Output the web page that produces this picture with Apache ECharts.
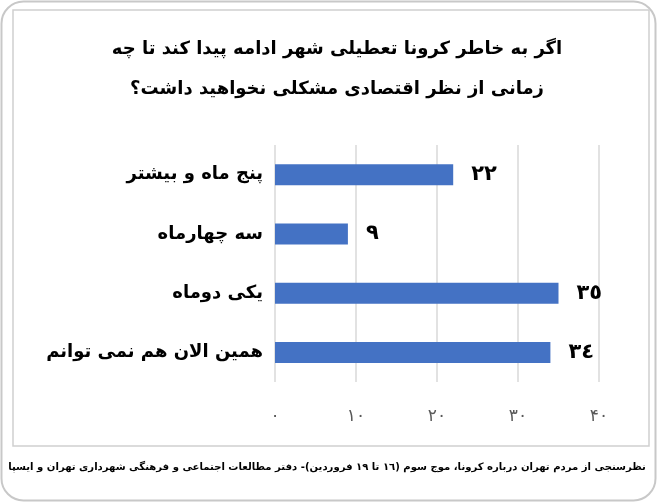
<!DOCTYPE html>
<html>
<head>
<meta charset="utf-8">
<script src="https://cdn.jsdelivr.net/npm/echarts@6/dist/echarts.min.js"></script>
<style>
html,body{margin:0;padding:0;background:#fff;}
#chart{width:657px;height:503px;}
</style>
</head>
<body>
<div id="chart"></div>
<script>
const titleLines = ['اگر به خاطر کرونا تعطیلی شهر ادامه پیدا کند تا چه', 'زمانی از نظر اقتصادی مشکلی نخواهید داشت؟'];
const categories = ['پنج ماه و بیشتر', 'سه چهارماه', 'یکی دوماه', 'همین الان هم نمی توانم'];
const values = [22, 9, 35, 34];
const xTicks = [0, 10, 20, 30, 40];
const footerText = 'نظرسنجی از مردم تهران درباره کرونا، موج سوم (١٦ تا ١٩ فروردین)- دفتر مطالعات اجتماعی و فرهنگی شهرداری تهران و ایسپا';

const FONT = '"DejaVu Sans", sans-serif';
const arabicDigits = '٠١٢٣٤٥٦٧٨٩';
const persianDigits = '۰۱۲۳۴۵۶۷۸۹';
const toArabic = n => String(n).replace(/\d/g, d => arabicDigits[d]);
const toPersian = n => String(n).replace(/\d/g, d => d === '0' ? '٠' : persianDigits[d]);

// fit footer font size to the available width
function fitFont(text, weight, targetWidth, maxSize) {
  const c = document.createElement('canvas').getContext('2d');
  c.font = weight + ' 100px ' + FONT;
  const w = c.measureText(text).width;
  return Math.min(maxSize, 100 * targetWidth / w);
}
const footerSize = fitFont(footerText, 'bold', 638, 14);

const chart = echarts.init(document.getElementById('chart'), null, {renderer: 'canvas'});
chart.setOption({
  backgroundColor: '#ffffff',
  animation: false,
  title: {
    text: titleLines.join('\n'),
    left: 332,
    top: 24,
    textAlign: 'center',
    textStyle: {
      fontFamily: FONT, fontSize: 18, fontWeight: 'bold', color: '#000', lineHeight: 40
    }
  },
  grid: {left: 275, right: 58, top: 145, height: 237, containLabel: false},
  xAxis: {
    type: 'value',
    min: xTicks[0],
    max: xTicks[xTicks.length - 1],
    interval: xTicks[1] - xTicks[0],
    axisLine: {show: false},
    axisTick: {show: false},
    splitLine: {show: true, lineStyle: {color: '#d9d9d9', width: 1.5}},
    axisLabel: {
      margin: 26,
      fontFamily: FONT, fontSize: 17, color: '#595959',
      formatter: v => toPersian(v)
    }
  },
  yAxis: {
    type: 'category',
    data: categories,
    inverse: true,
    axisLine: {show: false},
    axisTick: {show: false},
    axisLabel: {
      margin: 12,
      fontFamily: FONT, fontSize: 18, fontWeight: 'bold', color: '#000'
    }
  },
  series: [{
    type: 'bar',
    data: values,
    barWidth: 21,
    itemStyle: {color: '#4472C4'},
    label: {
      show: true,
      position: 'right',
      distance: 18,
      fontFamily: FONT, fontSize: 21, fontWeight: 'bold', color: '#000',
      formatter: p => toArabic(p.value)
    }
  }],
  graphic: [
    {
      type: 'rect', silent: true, z: -1,
      shape: {x: 1.5, y: 1.5, width: 654, height: 499, r: 22},
      style: {fill: 'none', stroke: '#c8c8c8', lineWidth: 2}
    },
    {
      type: 'rect', silent: true, z: -1,
      shape: {x: 13, y: 10, width: 636, height: 436},
      style: {fill: 'none', stroke: '#d0d0d0', lineWidth: 1.5}
    },
    {
      type: 'text', silent: true,
      x: 327, y: 467,
      style: {
        text: footerText,
        fontFamily: FONT, fontSize: footerSize, fontWeight: 'bold', fill: '#000',
        align: 'center', verticalAlign: 'middle'
      }
    }
  ]
});
</script>
</body>
</html>
